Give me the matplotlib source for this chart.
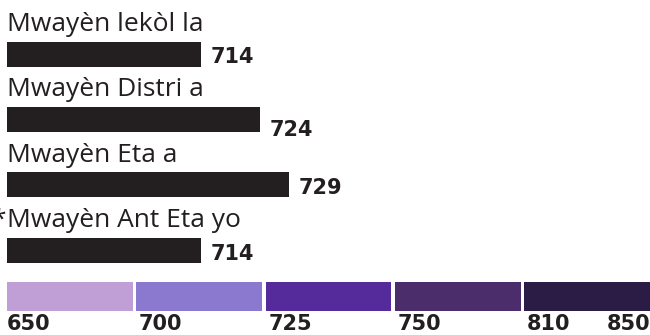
import matplotlib
matplotlib.use("Agg")
import matplotlib.pyplot as plt
from matplotlib.patches import Rectangle

# Average scores
categories = ["Mwayèn lekòl la", "Mwayèn Distri a", "Mwayèn Eta a", "Mwayèn Ant Eta yo"]
values = [714, 724, 729, 714]
starred = [False, False, False, True]

# Score band legend
band_edges = [650, 700, 725, 750, 810, 850]
band_colors = ["#c09fd6", "#8b79d0", "#552b9b", "#4b2d6c", "#2b1c46"]

BAR_COLOR = "#231f20"
TEXT_COLOR = "#231f20"
LABEL_FONT = "Open Sans"
NUM_FONT = "DejaVu Sans"
LABEL_SIZE = 19
NUM_SIZE = 15

# vertical nudge (pixels, downward) for each value label
value_nudge_px = [1, 9, 2, 2]

W, H = 650, 335
PX = 72 / 100  # points per pixel
fig = plt.figure(figsize=(W / 100, H / 100), dpi=100)

# ---- bar panel ----
ax = fig.add_axes([7 / W, (H - 275) / H, (W - 7) / W, 275 / H])
ax.set_xlim(681, 681 + (W - 7) / 5.874)
pitch = 65.2
ax.set_ylim((275 - 54.5) / pitch, -54.5 / pitch)
ax.axis("off")

ypos = list(range(len(categories)))
ax.barh(ypos, [v - 681 for v in values], left=681, height=25 / pitch,
        color=BAR_COLOR, edgecolor="none")

ytrans = ax.get_yaxis_transform()
for y, cat, val, star, nud in zip(ypos, categories, values, starred, value_nudge_px):
    ax.text(0, y - 23.3 / pitch, cat, transform=ytrans, ha="left", va="baseline",
            fontsize=LABEL_SIZE, family=LABEL_FONT, color=TEXT_COLOR)
    if star:
        ax.annotate("*", xy=(0, y - 23.3 / pitch), xycoords=ytrans,
                    xytext=(-0.5, 0), textcoords="offset points",
                    ha="right", va="baseline", fontsize=LABEL_SIZE,
                    family=LABEL_FONT, color=TEXT_COLOR, annotation_clip=False)
    ax.annotate(str(val), xy=(val, y), xytext=(7.0, -(7.5 + nud) * PX),
                textcoords="offset points", ha="left", va="baseline",
                fontsize=NUM_SIZE, fontweight="bold", family=NUM_FONT,
                color=TEXT_COLOR)

# ---- legend panel ----
lg = fig.add_axes([7 / W, (H - 311) / H, (W + 3.5 - 7) / W, 29 / H])
n = len(band_colors)
lg.set_xlim(0, n)
lg.set_ylim(0, 1)
lg.axis("off")
gap = 3.5 / ((W + 3.5 - 7) / n)
for i, c in enumerate(band_colors):
    lg.add_patch(Rectangle((i, 0), 1 - gap, 1, facecolor=c, edgecolor="none"))

for i, edge in enumerate(band_edges):
    if i < n:
        x, ha, dx = i, "left", (0 if i == 0 else 2.0)
    else:
        x, ha, dx = n - gap, "right", 0
    lg.annotate(str(edge), xy=(x, 0), xycoords="data", xytext=(dx, -19 * PX),
                textcoords="offset points", ha=ha, va="baseline", fontsize=NUM_SIZE,
                fontweight="bold", family=NUM_FONT, color=TEXT_COLOR,
                annotation_clip=False)

fig.savefig("out.png", dpi=100)
